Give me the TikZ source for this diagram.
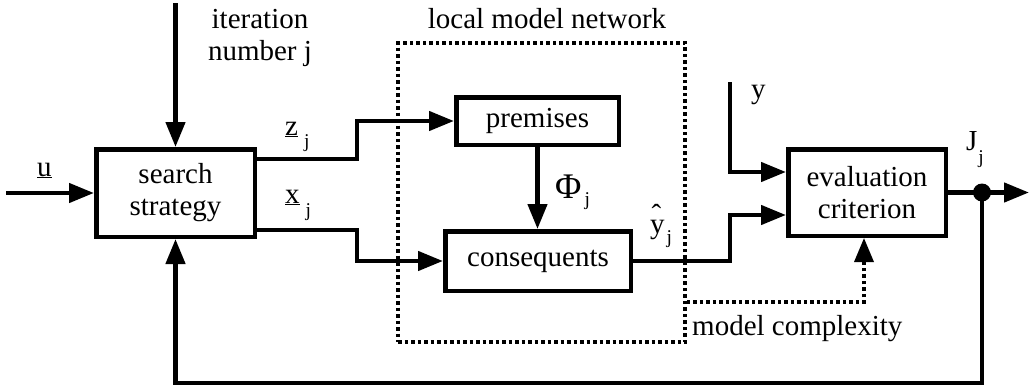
\documentclass[tikz,border=0pt]{standalone}
\usepackage{fontspec}
\setmainfont{Liberation Serif}
\usetikzlibrary{arrows.meta}
% lowered subscript "j" set in a smaller size
\newcommand\lowj[1]{\raisebox{-#1pt}{\fontsize{19.5}{19.5}\selectfont j}}

\begin{document}
\begin{tikzpicture}[x=1pt,y=-1pt,
  every node/.style={font=\fontsize{29}{32}\selectfont, inner sep=0pt},
  block/.style={draw, line width=4.5pt, align=center},
  wire/.style={line width=4.5pt},
  flow/.style={wire, -{Triangle[length=25pt,width=19pt]}},
  dots/.style={line width=3.5pt, dash pattern=on 3.5pt off 3pt},
  lbl/.style={anchor=base west}]

\useasboundingbox (0,0) rectangle (1029,388);

% blocks
\node[block, minimum width=158.5pt, minimum height=87.5pt] (search) at (175.5,193) {search\\strategy};
\node[block, minimum width=162.5pt, minimum height=47.5pt] (prem) at (537.5,121) {premises};
\node[block, minimum width=185.5pt, minimum height=59.5pt] (cons) at (538,261) {consequents};
\node[block, minimum width=157.5pt, minimum height=86.5pt] (eval) at (867,192.5) {evaluation\\criterion};

% local model network frame
\node[draw, dots, minimum width=287pt, minimum height=299pt] (net) at (541.5,192.5) {};

% routing points
\coordinate (itop) at (175.5,3);
\coordinate (uin) at (6,193);
\coordinate (zk) at (357,159);
\coordinate (xk) at (357,230);
\coordinate (yk) at (730,261);
\coordinate (ytop) at (730,82);
\coordinate (e1) at (0,172);
\coordinate (e2) at (0,215);
\coordinate (out) at (1029,192.5);
\coordinate (fb) at (982,383);
\coordinate (mc) at (864,302);

% signal lines
\draw[flow] (itop) -- (search.north);
\draw[flow] (uin) -- (search.west);
\draw[flow] (search.east |- zk) -- (zk) |- (prem.west);
\draw[flow] (search.east |- xk) -- (xk) |- (cons.west);
\draw[flow] (prem.south) -- (prem.south |- cons.north);
\draw[flow] (cons.east) -- (yk) |- (eval.west |- e2);
\draw[flow] (ytop) |- (eval.west |- e1);
\draw[flow] (eval.east) -- (out);
\node[circle, fill, minimum size=18pt] (tap) at (982,192.5) {};
\draw[flow] (tap.center) -- (fb) -| (search.south);
\draw[dots, -{Triangle[length=24pt,width=19pt]}] (net.east |- mc) -- (mc) -- (eval.south -| mc);

% labels
\node[align=center] (itlbl) at (260,38) {iteration\\number j};
\node[anchor=base] (netlbl) at (547,28) {local model network};
\node[lbl] (ulbl) at (37,176) {\underline{u}};
\node[lbl] (zlbl) at (285,135) {\underline{z}\hspace{6pt}\lowj{12}};
\node[lbl] (xlbl) at (285,203) {\underline{x}\hspace{6pt}\lowj{13}};
\node[lbl] (philbl) at (555,198) {{\fontsize{36}{36}\selectfont Φ}\hspace{3pt}\lowj{7}};
\node[lbl] (yhlbl) at (650,233) {\makebox[0pt][l]{\hspace{1.5pt}\raisebox{9pt}{ˆ}}y\hspace{2pt}\lowj{10}};
\node[lbl] (ylbl) at (751,98) {y};
\node[lbl] (jlbl) at (966,150) {J\hspace{1pt}\lowj{13}};
\node[lbl] (mclbl) at (692,335) {model complexity};
\end{tikzpicture}
\end{document}
